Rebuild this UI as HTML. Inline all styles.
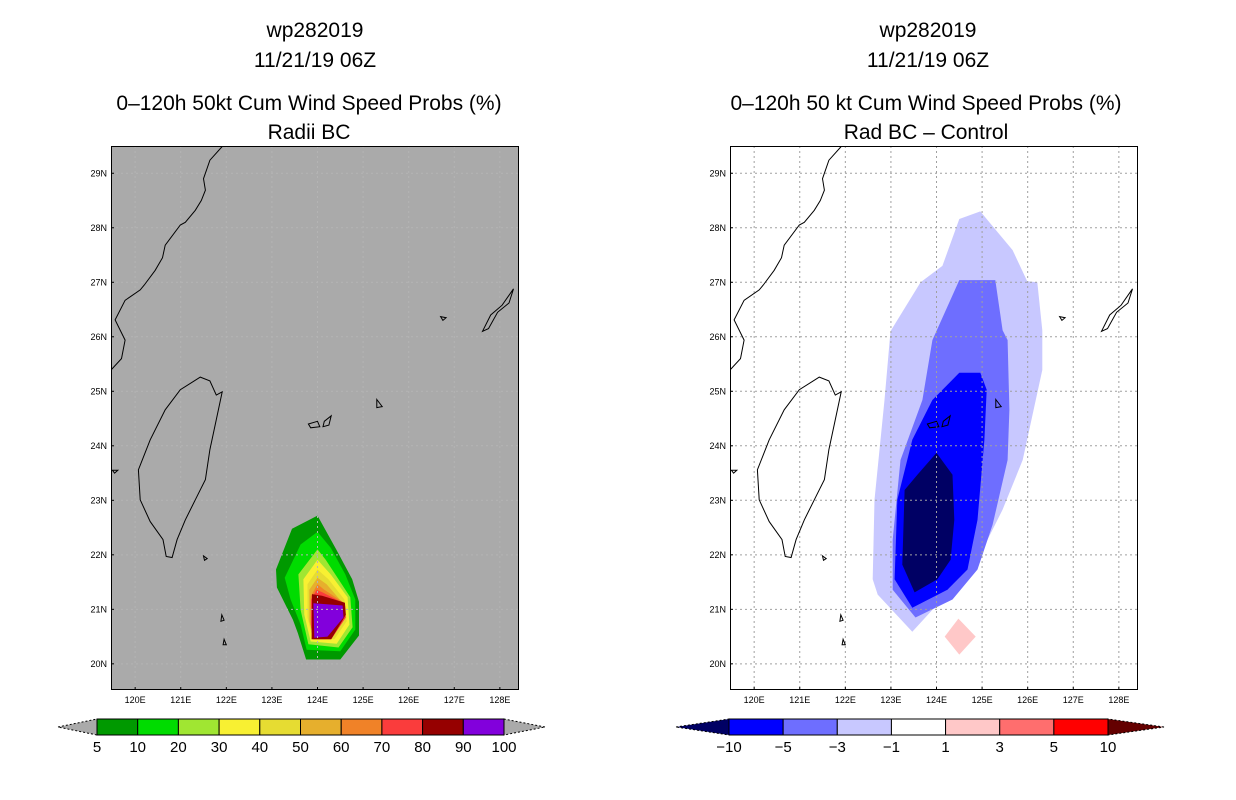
<!DOCTYPE html>
<html><head><meta charset="utf-8">
<style>
body{margin:0;background:#fff;width:1236px;height:800px;overflow:hidden}
svg{display:block}
text{font-family:"Liberation Sans",sans-serif}
</style></head>
<body>
<svg id="s" width="1236" height="800" xmlns="http://www.w3.org/2000/svg">
<g font-size="21" text-anchor="middle" fill="#000">
<text x="315" y="37">wp282019</text><text x="315" y="67">11/21/19 06Z</text>
<text x="309" y="110">0–120h 50kt Cum Wind Speed Probs (%)</text><text x="309" y="139">Radii BC</text></g>
<g font-size="21" text-anchor="middle" fill="#000">
<text x="928" y="37">wp282019</text><text x="928" y="67">11/21/19 06Z</text>
<text x="926" y="110">0–120h 50 kt Cum Wind Speed Probs (%)</text><text x="926" y="139">Rad BC – Control</text></g>
</svg>
<script>
// ---- data ----
const lonTicks=[120,121,122,123,124,125,126,127,128];
const latTicks=[20,21,22,23,24,25,26,27,28,29];
const probLevels=[5,10,20,30,40,50,60,70,80,90,100];
const probColors=['#009900','#00dc00','#a0e632','#f8f032','#e6dc32','#e6af2d','#f08228','#fa3c3c','#960000','#8200dc'];
const diffLevels=[-10,-5,-3,-1,1,3,5,10];
const diffColors=['#000064','#0000ff','#6e6eff','#c8c8ff','#ffffff','#ffc8c8','#ff6e6e','#ff0000','#640000'];
const prob5=[[124,22.72],[123.44,22.48],[123.09,21.73],[123.11,21.4],[123.46,20.81],[123.57,20.56],[123.75,20.08],[124.5,20.08],[124.91,20.52],[124.91,21.14],[124.76,21.55],[124.41,22.1]];
const prob10=[[124,22.42],[123.63,22.19],[123.28,21.58],[123.41,21.18],[123.63,20.72],[123.76,20.26],[124.5,20.23],[124.83,20.63],[124.83,21.18],[124.61,21.64],[124.29,22.13]];
const prob20=[[124,22.1],[123.58,21.64],[123.63,20.99],[123.8,20.36],[124.46,20.3],[124.77,20.67],[124.72,21.22],[124.46,21.55],[124.18,21.91]];
const prob30=[[124,21.91],[123.69,21.55],[123.71,20.9],[123.85,20.41],[124.42,20.37],[124.7,20.72],[124.66,21.22],[124.29,21.64]];
const prob40=[[124,21.73],[123.78,21.46],[123.78,20.85],[123.89,20.48],[124.37,20.45],[124.64,20.78],[124.59,21.18],[124.24,21.55]];
const prob50=[[124,21.58],[123.82,21.36],[123.82,20.78],[123.91,20.52],[124.33,20.5],[124.57,20.81],[124.53,21.14],[124.2,21.46]];
const prob60=[[124,21.46],[123.85,21.24],[123.85,20.72],[123.93,20.48],[124.31,20.48],[124.6,20.83],[124.58,21.12],[124.15,21.36]];
const prob70=[[123.98,21.36],[123.86,21.18],[123.86,20.67],[123.9,20.45],[124.3,20.45],[124.62,20.85],[124.6,21.1],[124.11,21.31]];
const prob80=[[123.88,21.28],[123.87,20.45],[124.3,20.45],[124.62,20.9],[124.6,21.12],[124.1,21.25]];
const prob90=[[123.91,21.11],[124.55,21.07],[124.57,20.85],[124.22,20.5],[123.93,20.48]];
const diffM1=[[124.96,28.3],[124.5,28.16],[124.13,27.3],[123.65,27.0],[122.99,26.1],[122.86,24.84],[122.64,23.01],[122.6,21.55],[122.71,21.27],[123.47,20.59],[124.02,21.09],[124.9,21.91],[125.45,22.83],[125.89,23.74],[126.32,25.39],[126.32,26.12],[126.21,27.0],[125.99,27.02],[125.67,27.59]];
const diffM3=[[124.5,27.04],[125.29,27.04],[125.45,26.12],[125.56,25.94],[125.6,24.66],[125.56,23.74],[125.23,22.55],[124.9,21.73],[124.35,21.18],[123.54,20.85],[123.04,21.36],[123.04,22.28],[123.21,23.74],[123.69,24.84],[123.91,25.94]];
const diffM5=[[124.5,25.34],[124.96,25.34],[125.1,25.03],[125.05,24.11],[124.9,22.64],[124.68,21.73],[124.24,21.36],[123.47,21.03],[123.08,21.55],[123.14,23.01],[123.47,24.11],[123.91,24.84]];
const diffM10=[[124,23.87],[124.35,23.47],[124.39,22.64],[124.31,21.91],[124.02,21.55],[123.52,21.31],[123.25,21.82],[123.3,23.19],[123.58,23.47]];
const diffP1=[[124.48,20.83],[124.86,20.5],[124.5,20.17],[124.18,20.5]];
const taiwan=[[121.43,25.26],[121.64,25.19],[121.78,24.93],[121.91,24.99],[121.78,24.48],[121.64,23.93],[121.54,23.38],[121.32,23.01],[121.1,22.64],[120.92,22.28],[120.81,21.95],[120.68,21.97],[120.61,22.28],[120.33,22.61],[120.11,23.01],[120.07,23.56],[120.33,24.11],[120.66,24.66],[120.99,25.03]];
const chinaCoast=[[119.47,25.39],[119.7,25.6],[119.78,25.94],[119.56,26.31],[119.78,26.67],[120.11,26.86],[120.2,26.95],[120.44,27.22],[120.6,27.45],[120.66,27.68],[120.99,28.05],[121.1,28.1],[121.32,28.32],[121.45,28.5],[121.54,28.69],[121.5,28.9],[121.64,29.24],[121.91,29.49]];
const islands=[[[123.8,24.4],[124.0,24.45],[124.05,24.35],[123.85,24.33]],[[124.15,24.45],[124.3,24.55],[124.25,24.38],[124.12,24.35]],[[125.3,24.85],[125.42,24.72],[125.3,24.7]],[[126.7,26.37],[126.82,26.35],[126.75,26.3]],[[127.62,26.1],[127.8,26.4],[128.05,26.58],[128.3,26.88],[128.2,26.62],[127.95,26.45],[127.75,26.15]],[[121.5,21.98],[121.58,21.93],[121.52,21.9]],[[121.9,20.9],[121.95,20.8],[121.88,20.78]],[[121.95,20.45],[122.0,20.35],[121.93,20.35]],[[119.5,23.55],[119.62,23.55],[119.55,23.5]]];

// ---- layout ----
const panels=[{x0:111,name:'left'},{x0:730,name:'right'}];
const W=408,Y0=146,H=544,LON0=119.47,LON1=128.42,LAT0=19.52,LAT1=29.5;
const NS='http://www.w3.org/2000/svg';
const svg=document.getElementById('s');
function mk(tag,at,parent){const e=document.createElementNS(NS,tag);for(const k in at)e.setAttribute(k,at[k]);(parent||svg).appendChild(e);return e;}
function xs(p,lon){return p.x0+(lon-LON0)/(LON1-LON0)*W;}
function ys(lat){return Y0+(LAT1-lat)/(LAT1-LAT0)*H;}
function pts(p,arr){return arr.map(d=>xs(p,d[0]).toFixed(1)+','+ys(d[1]).toFixed(1)).join(' ');}

function panel(p,bg,fills,gridColor){
  const g=mk('g',{'clip-path':'url(#clip-'+p.name+')'});
  
  
  const cp=mk('clipPath',{id:'clip-'+p.name});
  mk('rect',{x:p.x0,y:Y0,width:W,height:H},cp);
  mk('rect',{x:p.x0,y:Y0,width:W,height:H,fill:bg},g);
  fills.forEach((f,i)=>{
    const el=mk('polygon',{points:pts(p,f.d),fill:f.c},g);
    
    
  });
  lonTicks.forEach(l=>{
    const el=mk('line',{x1:xs(p,l),x2:xs(p,l),y1:Y0,y2:Y0+H,stroke:gridColor,'stroke-dasharray':'2,3'},g);
    
    
  });
  latTicks.forEach(l=>{
    const el=mk('line',{x1:p.x0,x2:p.x0+W,y1:ys(l),y2:ys(l),stroke:gridColor,'stroke-dasharray':'2,3'},g);
    
    
  });
  let c=mk('polygon',{points:pts(p,taiwan),fill:'none',stroke:'#000','stroke-width':1},g);
  
  
  c=mk('polyline',{points:pts(p,chinaCoast),fill:'none',stroke:'#000','stroke-width':1},g);
  
  
  islands.forEach(is=>{
    const e=mk('polygon',{points:pts(p,is),fill:'none',stroke:'#000','stroke-width':1},g);
    
    
  });
  const fr=mk('rect',{x:p.x0+0.5,y:Y0+0.5,width:W-1,height:H-1,fill:'none',stroke:'#000'});
  
  
  latTicks.forEach(l=>{
    const t=mk('text',{x:p.x0-4,y:ys(l)+3,'font-size':9,'text-anchor':'end'});
    t.textContent=l+'N';
    
    
    mk('line',{x1:p.x0,x2:p.x0+3,y1:ys(l),y2:ys(l),stroke:'#000'});
  });
  lonTicks.forEach(l=>{
    const t=mk('text',{x:xs(p,l),y:Y0+H+13,'font-size':9,'text-anchor':'middle'});
    t.textContent=l+'E';
    
    
    mk('line',{x1:xs(p,l),x2:xs(p,l),y1:Y0+H,y2:Y0+H-3,stroke:'#000'});
  });
}
const probPolys=[prob5,prob10,prob20,prob30,prob40,prob50,prob60,prob70,prob80,prob90];
panel(panels[0],'#aaaaaa',probPolys.map((d,i)=>({d:d,c:probColors[i],n:'prob-contour-'+probLevels[i]})),'#b4b4b4');
panel(panels[1],'#ffffff',[{d:diffM1,c:diffColors[3],n:'diff-contour-m1'},{d:diffM3,c:diffColors[2],n:'diff-contour-m3'},{d:diffM5,c:diffColors[1],n:'diff-contour-m5'},{d:diffM10,c:diffColors[0],n:'diff-contour-m10'},{d:diffP1,c:diffColors[5],n:'diff-contour-p1'}],'#a0a0a0');

function colorbar(name,bx0,bx1,tx0,tx1,colors,labels,leftTri,rightTri,labelsAtEdges){
  const g=mk('g',{});
  
  
  const y0=719,y1=735,ym=727,n=colors.length,w=(bx1-bx0)/n;
  mk('polygon',{points:`${tx0},${ym} ${bx0},${y0} ${bx0},${y1}`,fill:leftTri,stroke:'#000','stroke-dasharray':'2,2'},g);
  mk('polygon',{points:`${tx1},${ym} ${bx1},${y0} ${bx1},${y1}`,fill:rightTri,stroke:'#000','stroke-dasharray':'2,2'},g);
  colors.forEach((c,i)=>{
    const r=mk('rect',{x:bx0+i*w,y:y0,width:w,height:y1-y0,fill:c,stroke:'#000'},g);
    
    
  });
  labels.forEach((l,i)=>{
    const t=mk('text',{x:bx0+(labelsAtEdges?i:i+1)*w,y:752,'font-size':15,'text-anchor':'middle'},g);
    t.textContent=String(l).replace('-','−');
    
    
  });
}
colorbar('prob-colorbar',97,504,58,545,probColors,probLevels,'#aaaaaa','#aaaaaa',true);
colorbar('diff-colorbar',729,1108,676,1164,diffColors.slice(1,8),diffLevels,diffColors[0],diffColors[8],true);
</script>
</body></html>
